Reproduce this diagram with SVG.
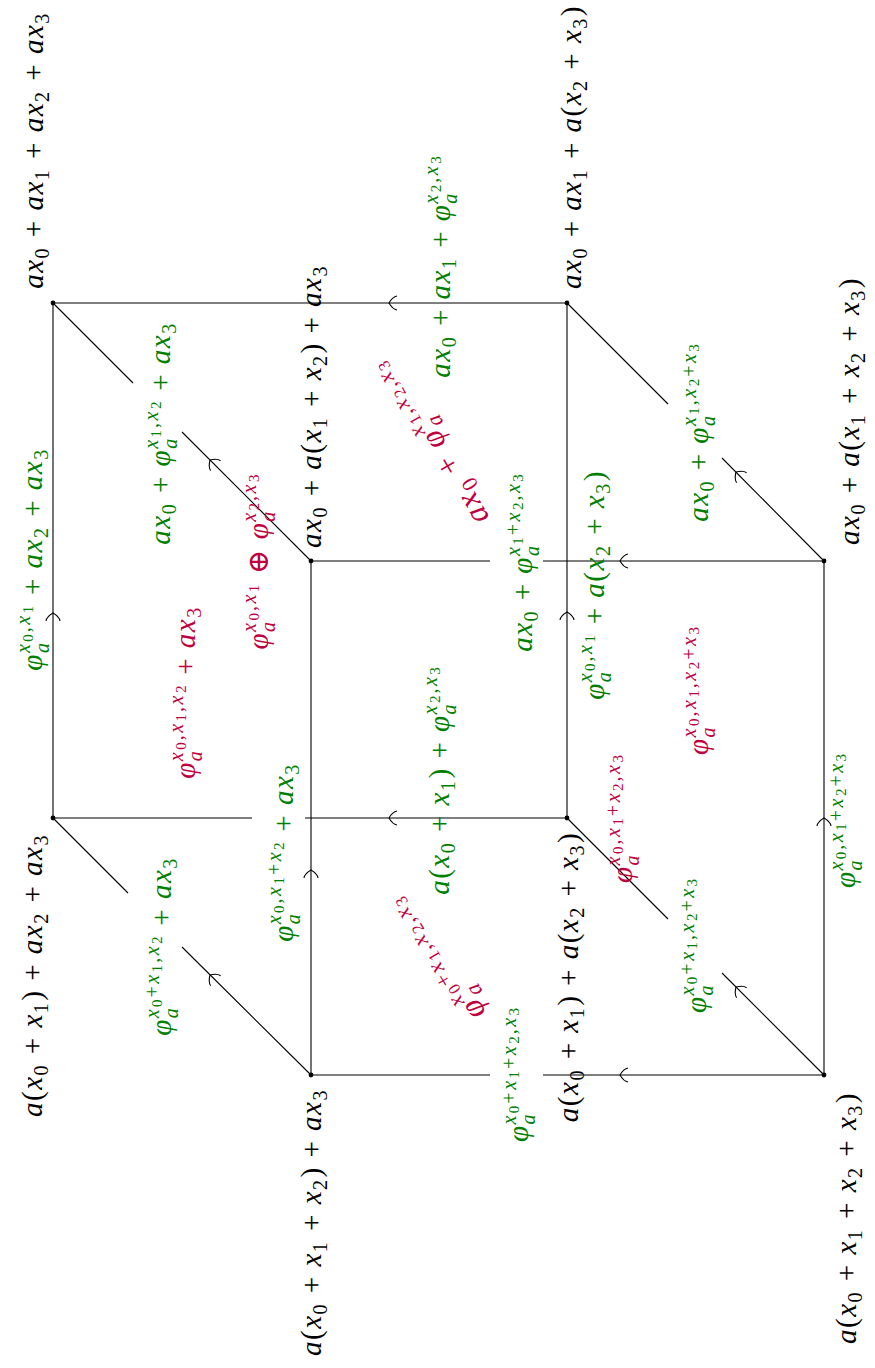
<svg xmlns="http://www.w3.org/2000/svg" width="875" height="1368" viewBox="0 0 875 1368" font-family="Liberation Serif, DejaVu Serif, serif">
<style>
text{font-family:'Liberation Serif','DejaVu Serif',serif;font-style:italic;font-size:29px;letter-spacing:1.5px;text-anchor:middle}
.u{font-style:normal}
.s{font-size:20px;letter-spacing:2.5px}
.ss{font-size:15px;letter-spacing:2px}
.k{fill:#000}.g{fill:#008000}.r{fill:#bf0040}
.ln{fill:none;stroke:#000;stroke-width:1.1}
.ah{fill:none;stroke:#000;stroke-width:1.1}
.dot{fill:#000}
</style>
<defs>
<path id="up" class="ah" d="M-7,8 C-6.5,4.5 -3.5,2 0,0 C3.5,2 6.5,4.5 7,8"/>
</defs>
<rect width="875" height="1368" fill="#fff"/>
<g id="connectors">
<path class="ln" d="M53,303 H567"/>
<path class="ln" d="M53,303 V818"/>
<path class="ln" d="M567,303 V818"/>
<path class="ln" d="M53,818 H252 M305,818 H567"/>
<path class="ln" d="M53,303 L133,383 M182,432 L311,561"/>
<path class="ln" d="M567,303 L668,404 M722,458 L824,561"/>
<path class="ln" d="M53,818 L128,893 M182,947 L311,1075"/>
<path class="ln" d="M567,818 L668,919 M722,973 L824,1075"/>
<path class="ln" d="M311,561 H490 M543,561 H824"/>
<path class="ln" d="M311,561 V1075"/>
<path class="ln" d="M824,561 V1075"/>
<path class="ln" d="M311,1075 H490 M543,1075 H824"/>
<use href="#up" transform="translate(389,303) rotate(-90)"/>
<use href="#up" transform="translate(389,818) rotate(-90)"/>
<use href="#up" transform="translate(620,561) rotate(-90)"/>
<use href="#up" transform="translate(620,1075) rotate(-90)"/>
<use href="#up" transform="translate(53,613)"/>
<use href="#up" transform="translate(567,612)"/>
<use href="#up" transform="translate(311,870)"/>
<use href="#up" transform="translate(824,818)"/>
<use href="#up" transform="translate(210,460) rotate(-45)"/>
<use href="#up" transform="translate(210,975) rotate(-45)"/>
<use href="#up" transform="translate(736,472) rotate(-45)"/>
<use href="#up" transform="translate(736,987) rotate(-45)"/>
</g>
<g id="node-A"><circle class="dot" cx="53" cy="303" r="2.4"/><text class="k" transform="translate(43,150) rotate(-90)">ax<tspan class="s u" dy="6">0</tspan><tspan class="u" dy="-6"> + </tspan>ax<tspan class="s u" dy="6">1</tspan><tspan class="u" dy="-6"> + </tspan>ax<tspan class="s u" dy="6">2</tspan><tspan class="u" dy="-6"> + </tspan>ax<tspan class="s u" dy="6">3</tspan></text></g>
<g id="node-B"><circle class="dot" cx="567" cy="303" r="2.4"/><text class="k" transform="translate(581,147) rotate(-90)">ax<tspan class="s u" dy="6">0</tspan><tspan class="u" dy="-6"> + </tspan>ax<tspan class="s u" dy="6">1</tspan><tspan class="u" dy="-6"> + </tspan>a<tspan class="u">(</tspan>x<tspan class="s u" dy="6">2</tspan><tspan class="u" dy="-6"> + </tspan>x<tspan class="s u" dy="6">3</tspan><tspan class="u" dy="-6">)</tspan></text></g>
<g id="node-E"><circle class="dot" cx="311" cy="561" r="2.4"/><text class="k" transform="translate(321,406) rotate(-90)">ax<tspan class="s u" dy="6">0</tspan><tspan class="u" dy="-6"> + </tspan>a<tspan class="u">(</tspan>x<tspan class="s u" dy="6">1</tspan><tspan class="u" dy="-6"> + </tspan>x<tspan class="s u" dy="6">2</tspan><tspan class="u" dy="-6">) + </tspan>ax<tspan class="s u" dy="6">3</tspan></text></g>
<g id="node-F"><circle class="dot" cx="824" cy="561" r="2.4"/><text class="k" transform="translate(859,411) rotate(-90)">ax<tspan class="s u" dy="6">0</tspan><tspan class="u" dy="-6"> + </tspan>a<tspan class="u">(</tspan>x<tspan class="s u" dy="6">1</tspan><tspan class="u" dy="-6"> + </tspan>x<tspan class="s u" dy="6">2</tspan><tspan class="u" dy="-6"> + </tspan>x<tspan class="s u" dy="6">3</tspan><tspan class="u" dy="-6">)</tspan></text></g>
<g id="node-C"><circle class="dot" cx="53" cy="818" r="2.4"/><text class="k" transform="translate(42,975) rotate(-90)">a<tspan class="u">(</tspan>x<tspan class="s u" dy="6">0</tspan><tspan class="u" dy="-6"> + </tspan>x<tspan class="s u" dy="6">1</tspan><tspan class="u" dy="-6">) + </tspan>ax<tspan class="s u" dy="6">2</tspan><tspan class="u" dy="-6"> + </tspan>ax<tspan class="s u" dy="6">3</tspan></text></g>
<g id="node-D"><circle class="dot" cx="567" cy="818" r="2.4"/><text class="k" transform="translate(578,977) rotate(-90)">a<tspan class="u">(</tspan>x<tspan class="s u" dy="6">0</tspan><tspan class="u" dy="-6"> + </tspan>x<tspan class="s u" dy="6">1</tspan><tspan class="u" dy="-6">) + </tspan>a<tspan class="u">(</tspan>x<tspan class="s u" dy="6">2</tspan><tspan class="u" dy="-6"> + </tspan>x<tspan class="s u" dy="6">3</tspan><tspan class="u" dy="-6">)</tspan></text></g>
<g id="node-G"><circle class="dot" cx="311" cy="1075" r="2.4"/><text class="k" transform="translate(321,1222) rotate(-90)">a<tspan class="u">(</tspan>x<tspan class="s u" dy="6">0</tspan><tspan class="u" dy="-6"> + </tspan>x<tspan class="s u" dy="6">1</tspan><tspan class="u" dy="-6"> + </tspan>x<tspan class="s u" dy="6">2</tspan><tspan class="u" dy="-6">) + </tspan>ax<tspan class="s u" dy="6">3</tspan></text></g>
<g id="node-H"><circle class="dot" cx="824" cy="1075" r="2.4"/><text class="k" transform="translate(856,1218) rotate(-90)">a<tspan class="u">(</tspan>x<tspan class="s u" dy="6">0</tspan><tspan class="u" dy="-6"> + </tspan>x<tspan class="s u" dy="6">1</tspan><tspan class="u" dy="-6"> + </tspan>x<tspan class="s u" dy="6">2</tspan><tspan class="u" dy="-6"> + </tspan>x<tspan class="s u" dy="6">3</tspan><tspan class="u" dy="-6">)</tspan></text></g>
<g id="edge-labels">
<text class="g" transform="translate(42,559) rotate(-90)">φ<tspan class="s" dy="7">a</tspan><tspan class="s" dx="-12.5" dy="-19">x</tspan><tspan class="ss u" dy="3">0</tspan><tspan class="s u" dy="-3">,</tspan><tspan class="s">x</tspan><tspan class="ss u" dy="3">1</tspan><tspan class="u" dy="9"> + </tspan>ax<tspan class="s u" dy="6">2</tspan><tspan class="u" dy="-6"> + </tspan>ax<tspan class="s u" dy="6">3</tspan></text>
<text class="g" transform="translate(170,433) rotate(-90)">ax<tspan class="s u" dy="6">0</tspan><tspan class="u" dy="-6"> + </tspan>φ<tspan class="s" dy="7">a</tspan><tspan class="s" dx="-12.5" dy="-19">x</tspan><tspan class="ss u" dy="3">1</tspan><tspan class="s u" dy="-3">,</tspan><tspan class="s">x</tspan><tspan class="ss u" dy="3">2</tspan><tspan class="u" dy="9"> + </tspan>ax<tspan class="s u" dy="6">3</tspan></text>
<text class="g" transform="translate(450,266) rotate(-90)">ax<tspan class="s u" dy="6">0</tspan><tspan class="u" dy="-6"> + </tspan>ax<tspan class="s u" dy="6">1</tspan><tspan class="u" dy="-6"> + </tspan>φ<tspan class="s" dy="7">a</tspan><tspan class="s" dx="-12.5" dy="-19">x</tspan><tspan class="ss u" dy="3">2</tspan><tspan class="s u" dy="-3">,</tspan><tspan class="s">x</tspan><tspan class="ss u" dy="3">3</tspan></text>
<text class="g" transform="translate(708,432) rotate(-90)">ax<tspan class="s u" dy="6">0</tspan><tspan class="u" dy="-6"> + </tspan>φ<tspan class="s" dy="7">a</tspan><tspan class="s" dx="-12.5" dy="-19">x</tspan><tspan class="ss u" dy="3">1</tspan><tspan class="s u" dy="-3">,</tspan><tspan class="s">x</tspan><tspan class="ss u" dy="3">2</tspan><tspan class="s u" dy="-3">+</tspan><tspan class="s">x</tspan><tspan class="ss u" dy="3">3</tspan></text>
<text class="g" transform="translate(532,562) rotate(-90)">ax<tspan class="s u" dy="6">0</tspan><tspan class="u" dy="-6"> + </tspan>φ<tspan class="s" dy="7">a</tspan><tspan class="s" dx="-12.5" dy="-19">x</tspan><tspan class="ss u" dy="3">1</tspan><tspan class="s u" dy="-3">+</tspan><tspan class="s">x</tspan><tspan class="ss u" dy="3">2</tspan><tspan class="s u" dy="-3">,</tspan><tspan class="s">x</tspan><tspan class="ss u" dy="3">3</tspan></text>
<text class="g" transform="translate(604,585) rotate(-90)">φ<tspan class="s" dy="7">a</tspan><tspan class="s" dx="-12.5" dy="-19">x</tspan><tspan class="ss u" dy="3">0</tspan><tspan class="s u" dy="-3">,</tspan><tspan class="s">x</tspan><tspan class="ss u" dy="3">1</tspan><tspan class="u" dy="9"> + </tspan>a<tspan class="u">(</tspan>x<tspan class="s u" dy="6">2</tspan><tspan class="u" dy="-6"> + </tspan>x<tspan class="s u" dy="6">3</tspan><tspan class="u" dy="-6">)</tspan></text>
<text class="g" transform="translate(293,852) rotate(-90)">φ<tspan class="s" dy="7">a</tspan><tspan class="s" dx="-12.5" dy="-19">x</tspan><tspan class="ss u" dy="3">0</tspan><tspan class="s u" dy="-3">,</tspan><tspan class="s">x</tspan><tspan class="ss u" dy="3">1</tspan><tspan class="s u" dy="-3">+</tspan><tspan class="s">x</tspan><tspan class="ss u" dy="3">2</tspan><tspan class="u" dy="9"> + </tspan>ax<tspan class="s u" dy="6">3</tspan></text>
<text class="g" transform="translate(449,780) rotate(-90)">a<tspan class="u">(</tspan>x<tspan class="s u" dy="6">0</tspan><tspan class="u" dy="-6"> + </tspan>x<tspan class="s u" dy="6">1</tspan><tspan class="u" dy="-6">) + </tspan>φ<tspan class="s" dy="7">a</tspan><tspan class="s" dx="-12.5" dy="-19">x</tspan><tspan class="ss u" dy="3">2</tspan><tspan class="s u" dy="-3">,</tspan><tspan class="s">x</tspan><tspan class="ss u" dy="3">3</tspan></text>
<text class="g" transform="translate(171,946) rotate(-90)">φ<tspan class="s" dy="7">a</tspan><tspan class="s" dx="-12.5" dy="-19">x</tspan><tspan class="ss u" dy="3">0</tspan><tspan class="s u" dy="-3">+</tspan><tspan class="s">x</tspan><tspan class="ss u" dy="3">1</tspan><tspan class="s u" dy="-3">,</tspan><tspan class="s">x</tspan><tspan class="ss u" dy="3">2</tspan><tspan class="u" dy="9"> + </tspan>ax<tspan class="s u" dy="6">3</tspan></text>
<text class="g" transform="translate(706,945) rotate(-90)">φ<tspan class="s" dy="7">a</tspan><tspan class="s" dx="-12.5" dy="-19">x</tspan><tspan class="ss u" dy="3">0</tspan><tspan class="s u" dy="-3">+</tspan><tspan class="s">x</tspan><tspan class="ss u" dy="3">1</tspan><tspan class="s u" dy="-3">,</tspan><tspan class="s">x</tspan><tspan class="ss u" dy="3">2</tspan><tspan class="s u" dy="-3">+</tspan><tspan class="s">x</tspan><tspan class="ss u" dy="3">3</tspan></text>
<text class="g" transform="translate(855,820) rotate(-90)">φ<tspan class="s" dy="7">a</tspan><tspan class="s" dx="-12.5" dy="-19">x</tspan><tspan class="ss u" dy="3">0</tspan><tspan class="s u" dy="-3">,</tspan><tspan class="s">x</tspan><tspan class="ss u" dy="3">1</tspan><tspan class="s u" dy="-3">+</tspan><tspan class="s">x</tspan><tspan class="ss u" dy="3">2</tspan><tspan class="s u" dy="-3">+</tspan><tspan class="s">x</tspan><tspan class="ss u" dy="3">3</tspan></text>
<text class="g" transform="translate(528,1074) rotate(-90)">φ<tspan class="s" dy="7">a</tspan><tspan class="s" dx="-12.5" dy="-19">x</tspan><tspan class="ss u" dy="3">0</tspan><tspan class="s u" dy="-3">+</tspan><tspan class="s">x</tspan><tspan class="ss u" dy="3">1</tspan><tspan class="s u" dy="-3">+</tspan><tspan class="s">x</tspan><tspan class="ss u" dy="3">2</tspan><tspan class="s u" dy="-3">,</tspan><tspan class="s">x</tspan><tspan class="ss u" dy="3">3</tspan></text>
</g>
<g id="face-labels">
<text class="r" transform="translate(195,692) rotate(-90)">φ<tspan class="s" dy="7">a</tspan><tspan class="s" dx="-12.5" dy="-19">x</tspan><tspan class="ss u" dy="3">0</tspan><tspan class="s u" dy="-3">,</tspan><tspan class="s">x</tspan><tspan class="ss u" dy="3">1</tspan><tspan class="s u" dy="-3">,</tspan><tspan class="s">x</tspan><tspan class="ss u" dy="3">2</tspan><tspan class="u" dy="9"> + </tspan>ax<tspan class="s u" dy="6">3</tspan></text>
<text class="r" transform="translate(268,561) rotate(-90)">φ<tspan class="s" dy="7">a</tspan><tspan class="s" dx="-12.5" dy="-19">x</tspan><tspan class="ss u" dy="3">0</tspan><tspan class="s u" dy="-3">,</tspan><tspan class="s">x</tspan><tspan class="ss u" dy="3">1</tspan><tspan class="u" dy="9"> ⊕ </tspan>φ<tspan class="s" dy="7">a</tspan><tspan class="s" dx="-12.5" dy="-19">x</tspan><tspan class="ss u" dy="3">2</tspan><tspan class="s u" dy="-3">,</tspan><tspan class="s">x</tspan><tspan class="ss u" dy="3">3</tspan></text>
<text class="r" transform="translate(442,435) rotate(-120) scale(1.1)">ax<tspan class="s u" dy="6">0</tspan><tspan class="u" dy="-6"> + </tspan>φ<tspan class="s" dy="7">a</tspan><tspan class="s" dx="-12.5" dy="-19">x</tspan><tspan class="ss u" dy="3">1</tspan><tspan class="s u" dy="-3">,</tspan><tspan class="s">x</tspan><tspan class="ss u" dy="3">2</tspan><tspan class="s u" dy="-3">,</tspan><tspan class="s">x</tspan><tspan class="ss u" dy="3">3</tspan></text>
<text class="r" transform="translate(708,690) rotate(-90)">φ<tspan class="s" dy="7">a</tspan><tspan class="s" dx="-12.5" dy="-19">x</tspan><tspan class="ss u" dy="3">0</tspan><tspan class="s u" dy="-3">,</tspan><tspan class="s">x</tspan><tspan class="ss u" dy="3">1</tspan><tspan class="s u" dy="-3">,</tspan><tspan class="s">x</tspan><tspan class="ss u" dy="3">2</tspan><tspan class="s u" dy="-3">+</tspan><tspan class="s">x</tspan><tspan class="ss u" dy="3">3</tspan></text>
<text class="r" transform="translate(632,818) rotate(-90)">φ<tspan class="s" dy="7">a</tspan><tspan class="s" dx="-12.5" dy="-19">x</tspan><tspan class="ss u" dy="3">0</tspan><tspan class="s u" dy="-3">,</tspan><tspan class="s">x</tspan><tspan class="ss u" dy="3">1</tspan><tspan class="s u" dy="-3">+</tspan><tspan class="s">x</tspan><tspan class="ss u" dy="3">2</tspan><tspan class="s u" dy="-3">,</tspan><tspan class="s">x</tspan><tspan class="ss u" dy="3">3</tspan></text>
<text class="r" transform="translate(449,950) rotate(-121) scale(1.12)">φ<tspan class="s" dy="7">a</tspan><tspan class="s" dx="-12.5" dy="-19">x</tspan><tspan class="ss u" dy="3">0</tspan><tspan class="s u" dy="-3">+</tspan><tspan class="s">x</tspan><tspan class="ss u" dy="3">1</tspan><tspan class="s u" dy="-3">,</tspan><tspan class="s">x</tspan><tspan class="ss u" dy="3">2</tspan><tspan class="s u" dy="-3">,</tspan><tspan class="s">x</tspan><tspan class="ss u" dy="3">3</tspan></text>
</g>
</svg>
